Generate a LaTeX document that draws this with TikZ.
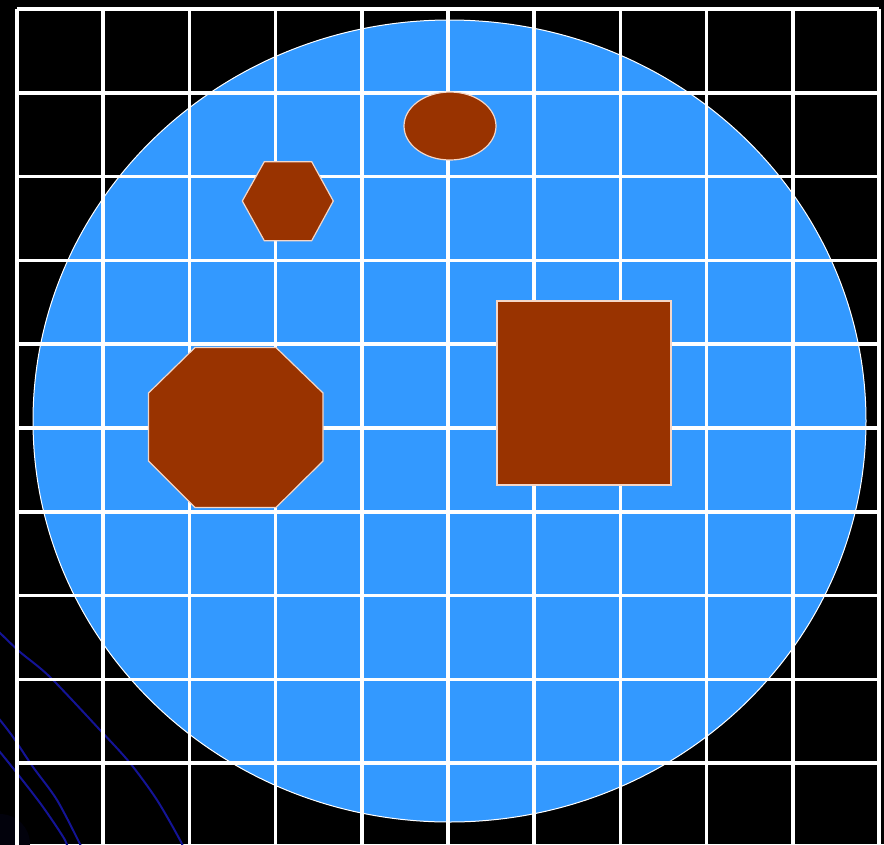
\documentclass[tikz,border=0pt]{standalone}
\definecolor{sky}{RGB}{51,153,255}
\definecolor{rust}{RGB}{153,51,0}
\definecolor{arcblue}{RGB}{20,20,150}
\definecolor{rim}{RGB}{245,215,200}
\begin{document}
\begin{tikzpicture}[x=1pt,y=-1pt,
  gridline/.style={white,line width=3.5pt},
  shapefill/.style={fill=rust,draw=rim,line width=1.2pt,line join=miter},
  bluearc/.style={arcblue,line width=2pt}]
\useasboundingbox (0,0) rectangle (884,844);
\fill[black] (0,0) rectangle (884,844);
\begin{scope}
\clip (0,0) rectangle (884,844);
% faint dark glow at the corner
\fill[black!80!arcblue!40!black] (0,844) circle [radius=30pt];
% dark blue arcs
\draw[bluearc] plot[smooth] coordinates {(-12,622) (0,633) (20,652) (50,677) (100,730) (130,763) (157,800) (180,840) (184,850)};
\draw[bluearc] plot[smooth] coordinates {(-10,708) (0,720) (13,737) (33,767) (57,800) (80,844) (83,852)};
\draw[bluearc] plot[smooth] coordinates {(-12,738) (0,752) (20,777) (43,807) (65,840) (68,852)};
% main disc
\fill[sky,draw=white,line width=1pt] (449.5,421) ellipse [x radius=416.5pt, y radius=401pt];
% grid
\foreach \i in {0,...,10} \draw[gridline] ({17+86.2*\i},9) -- ({17+86.2*\i},852);
\foreach \j in {0,...,10} \draw[gridline] (17,{9+83.8*\j}) -- (879,{9+83.8*\j});
% shapes
\filldraw[shapefill] (450,126) ellipse [x radius=46pt, y radius=34pt];
\filldraw[shapefill] (242.3,201) -- (264.3,161.7) -- (311.7,161.7) -- (333.3,201) -- (311.7,240.7) -- (264.3,240.7) -- cycle;
\filldraw[shapefill] (195,347.5) -- (276,347.5) -- (323,393) -- (323,461) -- (276,507.5) -- (195,507.5) -- (148.5,461) -- (148.5,393) -- cycle;
\filldraw[shapefill] (497,301) rectangle (671,485);
\end{scope}
\end{tikzpicture}
\end{document}
